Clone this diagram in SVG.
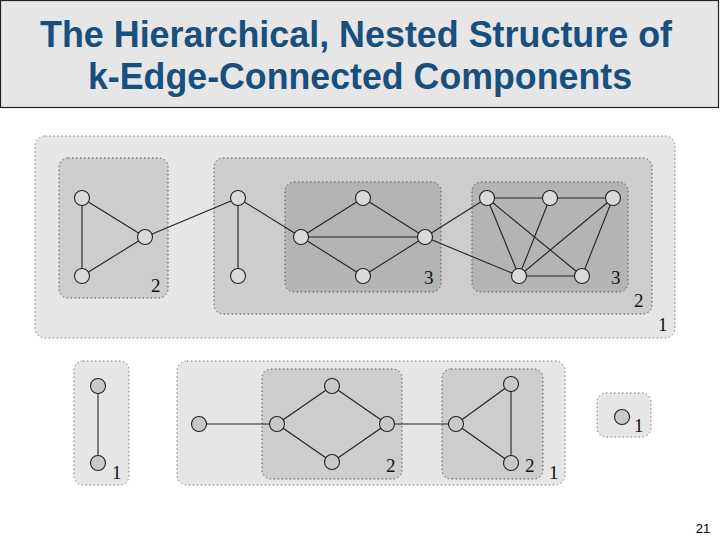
<svg xmlns="http://www.w3.org/2000/svg" width="720" height="540" viewBox="0 0 720 540">
<style>
.title{font-family:"Liberation Sans",Arial,sans-serif;font-weight:bold;font-size:36px;fill:#174f7f}
.lvl1{fill:#e6e6e6;stroke:#777;stroke-width:1;stroke-dasharray:1.5 2.5}
.lvl2{fill:#cdcdcd;stroke:#555;stroke-width:1;stroke-dasharray:1.5 2.5}
.lvl3{fill:#b4b4b4;stroke:#555;stroke-width:1;stroke-dasharray:1.5 2.5}
.e{stroke:#222;stroke-width:1.1;fill:none}
.n{fill:#dadada;stroke:#222;stroke-width:1.1}
.ng{fill:#c9c9c9;stroke:#222;stroke-width:1.1}
.lab{font-family:"Liberation Serif","Times New Roman",serif;font-size:19px;fill:#111}
.pg{font-family:"Liberation Sans",Arial,sans-serif;font-size:13px;fill:#000;text-anchor:middle}
</style>
<rect width="720" height="540" fill="#ffffff"/>
<g id="title">
<rect x="0.5" y="0.5" width="718" height="107" fill="#e6e6e6" stroke="#222" stroke-width="1.2"/>
<text class="title" x="40" y="47" textLength="632" lengthAdjust="spacingAndGlyphs">The Hierarchical, Nested Structure of</text>
<text class="title" x="88" y="89" textLength="544" lengthAdjust="spacingAndGlyphs">k-Edge-Connected Components</text>
</g>
<g id="components">
<rect class="lvl1" x="35" y="136" width="640" height="202" rx="10"/>
<rect class="lvl2" x="59" y="158" width="109" height="140" rx="9"/>
<rect class="lvl2" x="214" y="158" width="438" height="156" rx="9"/>
<rect class="lvl3" x="285" y="182" width="156" height="110" rx="9"/>
<rect class="lvl3" x="472" y="182" width="156" height="110" rx="9"/>
<rect class="lvl1" x="74" y="361" width="55" height="124" rx="9"/>
<rect class="lvl1" x="177" y="361" width="388" height="124" rx="10"/>
<rect class="lvl2" x="262" y="369" width="140" height="110" rx="9"/>
<rect class="lvl2" x="442" y="369" width="101" height="110" rx="9"/>
<rect class="lvl1" x="597" y="393" width="54" height="44" rx="9"/>
</g>
<g id="labels">
<text class="lab" x="151" y="292">2</text>
<text class="lab" x="634" y="307">2</text>
<text class="lab" x="658" y="331">1</text>
<text class="lab" x="424" y="284">3</text>
<text class="lab" x="611" y="284">3</text>
<text class="lab" x="112" y="479" fill="#1a1a4a">1</text>
<text class="lab" x="386" y="472">2</text>
<text class="lab" x="525" y="472">2</text>
<text class="lab" x="549" y="479">1</text>
<text class="lab" x="634" y="432" fill="#2a0a2a">1</text>
</g>
<g id="connectors">
<line class="e" x1="82" y1="198" x2="82" y2="276"/>
<line class="e" x1="82" y1="198" x2="145" y2="237"/>
<line class="e" x1="82" y1="276" x2="145" y2="237"/>
<line class="e" x1="145" y1="237" x2="238" y2="198"/>
<line class="e" x1="238" y1="198" x2="238" y2="276"/>
<line class="e" x1="238" y1="198" x2="301" y2="237"/>
<line class="e" x1="301" y1="237" x2="363" y2="198"/>
<line class="e" x1="301" y1="237" x2="363" y2="276"/>
<line class="e" x1="301" y1="237" x2="425" y2="237"/>
<line class="e" x1="363" y1="198" x2="425" y2="237"/>
<line class="e" x1="363" y1="276" x2="425" y2="237"/>
<line class="e" x1="425" y1="237" x2="487" y2="198"/>
<line class="e" x1="425" y1="237" x2="519" y2="276"/>
<line class="e" x1="487" y1="198" x2="550" y2="198"/>
<line class="e" x1="550" y1="198" x2="613" y2="198"/>
<line class="e" x1="487" y1="198" x2="519" y2="276"/>
<line class="e" x1="487" y1="198" x2="582" y2="276"/>
<line class="e" x1="550" y1="198" x2="519" y2="276"/>
<line class="e" x1="613" y1="198" x2="519" y2="276"/>
<line class="e" x1="613" y1="198" x2="582" y2="276"/>
<line class="e" x1="519" y1="276" x2="582" y2="276" stroke="#888"/>
<line class="e" x1="98" y1="386" x2="98" y2="463"/>
<line class="e" x1="199" y1="424" x2="277" y2="424"/>
<line class="e" x1="277" y1="424" x2="332" y2="386"/>
<line class="e" x1="277" y1="424" x2="332" y2="462"/>
<line class="e" x1="332" y1="386" x2="387" y2="424"/>
<line class="e" x1="332" y1="462" x2="387" y2="424"/>
<line class="e" x1="387" y1="424" x2="456" y2="424"/>
<line class="e" x1="456" y1="424" x2="511" y2="384"/>
<line class="e" x1="456" y1="424" x2="511" y2="463"/>
<line class="e" x1="511" y1="384" x2="511" y2="463"/>
</g>
<g id="nodes">
<g id="nA"><circle class="n" cx="82" cy="198" r="7.5"/></g>
<g id="nB"><circle class="n" cx="82" cy="276" r="7.5"/></g>
<g id="nC"><circle class="n" cx="145" cy="237" r="7.5"/></g>
<g id="nD"><circle class="n" cx="238" cy="198" r="7.5"/></g>
<g id="nE"><circle class="n" cx="238" cy="276" r="7.5"/></g>
<g id="nF"><circle class="n" cx="301" cy="237" r="7.5"/></g>
<g id="nG"><circle class="n" cx="363" cy="198" r="7.5"/></g>
<g id="nH"><circle class="n" cx="363" cy="276" r="7.5"/></g>
<g id="nI"><circle class="n" cx="425" cy="237" r="7.5"/></g>
<g id="nJ"><circle class="n" cx="487" cy="198" r="7.5"/></g>
<g id="nK"><circle class="n" cx="550" cy="198" r="7.5"/></g>
<g id="nL"><circle class="n" cx="613" cy="198" r="7.5"/></g>
<g id="nM"><circle class="n" cx="519" cy="276" r="7.5"/></g>
<g id="nN"><circle class="n" cx="582" cy="276" r="7.5"/></g>
<g id="nO1"><circle class="ng" cx="98" cy="386" r="7.5"/></g>
<g id="nO2"><circle class="ng" cx="98" cy="463" r="7.5"/></g>
<g id="nP"><circle class="ng" cx="199" cy="424" r="7.5"/></g>
<g id="nQ"><circle class="ng" cx="277" cy="424" r="7.5"/></g>
<g id="nR"><circle class="ng" cx="332" cy="386" r="7.5"/></g>
<g id="nS"><circle class="ng" cx="332" cy="462" r="7.5"/></g>
<g id="nT"><circle class="ng" cx="387" cy="424" r="7.5"/></g>
<g id="nU"><circle class="ng" cx="456" cy="424" r="7.5"/></g>
<g id="nV"><circle class="ng" cx="511" cy="384" r="7.5"/></g>
<g id="nW"><circle class="ng" cx="511" cy="463" r="7.5"/></g>
<g id="nX"><circle class="ng" cx="622" cy="417" r="7.5"/></g>
</g>
<text class="pg" x="703" y="533">21</text>
</svg>
